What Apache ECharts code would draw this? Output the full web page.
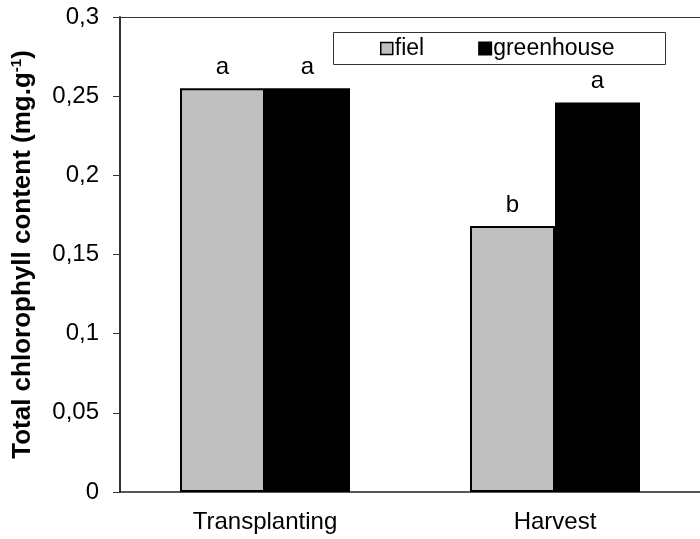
<!DOCTYPE html>
<html><head><meta charset="utf-8">
<script src="https://cdn.jsdelivr.net/npm/echarts@6/dist/echarts.min.js"></script>
<style>html,body{margin:0;padding:0;background:#fff}#c{width:700px;height:539px}</style>
</head><body><div id="c"></div>
<script>
const categories = ['Transplanting', 'Harvest'];
const fielValues = [0.255, 0.168];
const greenhouseValues = [0.255, 0.246];
const fielLetters = ['a', 'b'];
const greenhouseLetters = ['a', 'a'];
const seriesNames = ['fiel', 'greenhouse'];

const chart = echarts.init(document.getElementById('c'), null, {renderer: 'canvas'});
const font = 'Liberation Sans, Arial, sans-serif';
function letterLabel(letters) {
  return {show: true, position: 'top', distance: 9, fontFamily: font, fontSize: 24, color: '#000',
    formatter: p => letters[p.dataIndex]};
}
chart.setOption({
  animation: false,
  textStyle: {fontFamily: font},
  grid: {left: 120, right: -6, top: 17, bottom: 47, containLabel: false},
  legend: {
    left: 380, top: 37, padding: 0, itemWidth: 12, itemHeight: 12, itemGap: 54,
    textStyle: {fontFamily: font, fontSize: 23, color: '#000', padding: [0, 0, 0, -3]},
    data: [
      {name: seriesNames[0], icon: 'rect', itemStyle: {color: '#c0c0c0', borderColor: '#000', borderWidth: 1.5}},
      {name: seriesNames[1], icon: 'rect', itemStyle: {color: '#000'}}
    ]
  },
  graphic: [{type: 'rect', left: 333, top: 32, shape: {width: 332, height: 32},
    style: {fill: 'rgba(0,0,0,0)', stroke: '#333', lineWidth: 1}, z: 10}],
  xAxis: {
    type: 'category', data: categories,
    axisLine: {lineStyle: {color: '#222', width: 1.5}},
    axisTick: {show: false},
    axisLabel: {fontFamily: font, fontSize: 24, color: '#000', margin: 18}
  },
  yAxis: {
    type: 'value', min: 0, max: 0.3, interval: 0.05,
    name: '{b|Total chlorophyll content (mg.g}{s|-1}{b|)}',
    nameLocation: 'middle', nameGap: 84, nameRotate: 90,
    nameTextStyle: {rich: {
      b: {fontFamily: font, fontSize: 26, fontWeight: 'bold', color: '#000'},
      s: {fontFamily: font, fontSize: 15, fontWeight: 'bold', color: '#000', verticalAlign: 'top', padding: [0, 0, 12, 0]}
    }},
    axisLine: {show: true, lineStyle: {color: '#333', width: 2}},
    axisTick: {show: true, length: 7, inside: false, lineStyle: {color: '#333'}},
    splitLine: {show: true, lineStyle: {color: ['transparent','transparent','transparent','transparent','transparent','transparent','#333']}},
    axisLabel: {fontFamily: font, fontSize: 24, color: '#000', margin: 21,
      formatter: v => String(+v.toFixed(2)).replace('.', ',')}
  },
  series: [
    {name: seriesNames[0], type: 'bar', data: fielValues, barWidth: 85, barGap: '0%',
      itemStyle: {color: '#c0c0c0', borderColor: '#000', borderWidth: 2}, label: letterLabel(fielLetters)},
    {name: seriesNames[1], type: 'bar', data: greenhouseValues, barWidth: 85,
      itemStyle: {color: '#000', borderColor: '#000', borderWidth: 2}, label: letterLabel(greenhouseLetters)}
  ]
});
</script></body></html>
